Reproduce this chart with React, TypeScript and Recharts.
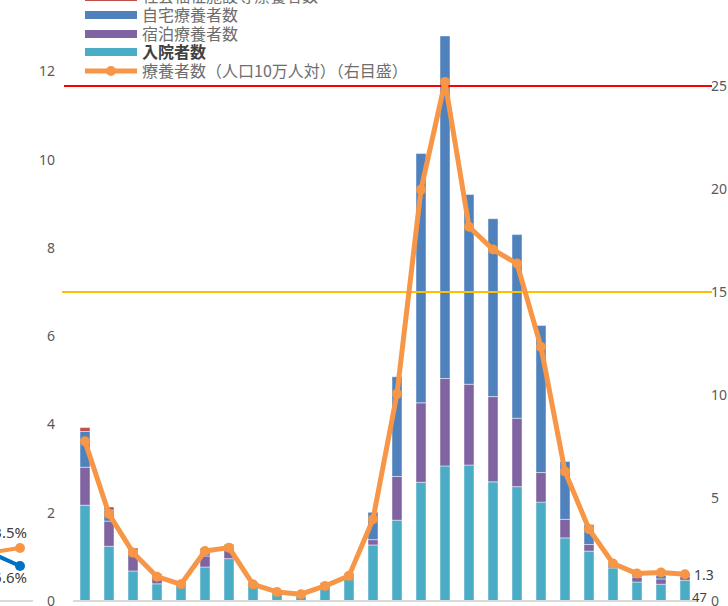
import React from 'react';
import {
  ComposedChart,
  LineChart,
  Bar,
  Line,
  XAxis,
  YAxis,
  ReferenceLine,
  Legend,
  LabelList,
} from 'recharts';

// ---- main chart data (left axis: 百人, right axis: 人口10万人対) ----
const categories = ['1', '2', '3', '4', '5', '6', '7', '8', '9', '10', '11', '12', '13', '14', '15', '16', '17', '18', '19', '20', '21', '22', '23', '24', '25', '26'];
const hospitalized = [2.17, 1.24, 0.68, 0.39, 0.37, 0.77, 0.96, 0.38, 0.19, 0.11, 0.38, 0.58, 1.27, 1.83, 2.69, 3.06, 3.08, 2.70, 2.59, 2.24, 1.43, 1.13, 0.75, 0.43, 0.38, 0.47];
const hotel = [0.86, 0.57, 0.38, 0.14, 0.05, 0.25, 0.19, 0.03, 0.02, 0.02, 0.03, 0.03, 0.12, 0.99, 1.80, 1.98, 1.83, 1.93, 1.55, 0.67, 0.42, 0.15, 0.05, 0.11, 0.12, 0.09];
const home = [0.81, 0.25, 0.08, 0.05, 0.02, 0.08, 0.06, 0.02, 0.01, 0.01, 0.01, 0.02, 0.62, 2.26, 5.65, 7.76, 4.30, 4.03, 4.16, 3.33, 1.31, 0.45, 0.04, 0.06, 0.08, 0.04];
const welfare = [0.09, 0.07, 0.06, 0.03, 0.01, 0.02, 0.02, 0, 0, 0, 0, 0, 0, 0, 0, 0, 0, 0, 0, 0, 0, 0, 0, 0, 0, 0];
const adjusting = [0, 0, 0, 0, 0, 0.08, 0.06, 0, 0, 0, 0, 0, 0, 0, 0, 0, 0, 0, 0, 0, 0, 0, 0, 0, 0, 0];
const perCapita = [7.75, 4.22, 2.35, 1.18, 0.81, 2.43, 2.59, 0.81, 0.44, 0.33, 0.73, 1.22, 3.97, 10.06, 19.97, 25.2, 18.17, 17.06, 16.38, 12.33, 6.29, 3.49, 1.82, 1.33, 1.38, 1.30];

const leftTicks = [0, 2, 4, 6, 8, 10, 12, 14];
const rightTicks = [0, 5, 10, 15, 20, 25, 30];
const redLevel = 25;
const yellowLevel = 15;

const seriesNames = {
  adjusting: '入院・療養等調整中',
  welfare: '社会福祉施設等療養者数',
  home: '自宅療養者数',
  hotel: '宿泊療養者数',
  hospitalized: '入院者数',
  perCapita: '療養者数（人口10万人対）（右目盛）',
};
const legendOrder = [
  seriesNames.adjusting,
  seriesNames.welfare,
  seriesNames.home,
  seriesNames.hotel,
  seriesNames.hospitalized,
  seriesNames.perCapita,
];

// ---- neighbouring (clipped) chart on the left edge ----
const miniCategories = ['a', 'b'];
const miniOrange = [8.8, 10.6];
const miniBlue = [12.4, 7.0];
const miniLabels = { orange: '3.5%', blue: '5.6%' };

const COLORS = {
  hospitalized: '#4BACC6',
  hotel: '#8064A2',
  home: '#4F81BD',
  welfare: '#C0504D',
  adjusting: '#9BBB59',
  line: '#F79646',
  red: '#FF0000',
  yellow: '#FFC000',
  axis: '#D9D9D9',
  tick: '#595959',
};

const data = categories.map((c, i) => ({
  cat: c,
  hospitalized: hospitalized[i],
  hotel: hotel[i],
  home: home[i],
  welfare: welfare[i],
  adjusting: adjusting[i],
  perCapita: perCapita[i],
}));

const miniData = miniCategories.map((c, i) => ({ k: c, o: miniOrange[i], b: miniBlue[i] }));

const tickStyle = { fill: COLORS.tick, fontSize: 14, fontFamily: 'Noto Sans' };

const renderLegend = (props: any) => {
  const payload: any[] = props.payload || [];
  const items = legendOrder
    .map((n) => payload.find((p) => p.value === n))
    .filter(Boolean);
  return (
    <div style={{ fontFamily: '"Noto Sans CJK JP"', fontSize: 16 }}>
      {items.map((it: any) => {
        const isLine = it.value === seriesNames.perCapita;
        const bold = it.value === seriesNames.hospitalized;
        return (
          <div key={it.value} style={{ height: 18.6, display: 'flex', alignItems: 'center', whiteSpace: 'nowrap' }}>
            {isLine ? (
              <svg width={52} height={12} style={{ display: 'block' }}>
                <line x1={0} y1={6} x2={52} y2={6} stroke={it.color} strokeWidth={5} strokeLinecap="round" />
                <circle cx={26} cy={6} r={5} fill={it.color} />
              </svg>
            ) : (
              <div style={{ width: 52, height: 8, background: it.color }} />
            )}
            <span
              style={{
                marginLeft: 5,
                color: bold ? '#404040' : '#6E6E6E',
                fontWeight: bold ? 700 : 400,
                position: 'relative',
                top: -1,
                lineHeight: '18.6px',
              }}
            >
              {it.value}
            </span>
          </div>
        );
      })}
    </div>
  );
};

// horizontal guide lines run a little past both ends of the plot area
const extendedLine = (color: string, extendLeft: number, extendRight: number) => (p: any) => {
  const lo = Math.min(p.x1, p.x2);
  const hi = Math.max(p.x1, p.x2);
  return <line x1={lo - extendLeft} y1={p.y1} x2={hi + extendRight} y2={p.y2} stroke={color} strokeWidth={2} />;
};

const lastIndex = categories.length - 1;

export default function App() {
  return (
    <div style={{ position: 'absolute', left: 0, top: 0, width: 728, height: 606, overflow: 'hidden', background: '#fff' }}>
      {/* neighbouring chart, mostly outside the view */}
      <div style={{ position: 'absolute', left: -60, top: 0 }}>
        <LineChart width={93} height={640} data={miniData} margin={{ top: 401, right: 0, bottom: 0, left: 0 }}>
          <XAxis dataKey="k" tick={false} tickLine={false} height={39} axisLine={{ stroke: COLORS.axis, strokeWidth: 2 }} padding={{ left: 20, right: 13 }} />
          <YAxis hide domain={[0, 40]} />
          <Line dataKey="o" stroke={COLORS.line} strokeWidth={4} dot={{ r: 5, fill: COLORS.line, stroke: 'none' }} isAnimationActive={false}>
            <LabelList
              dataKey="o"
              content={(p: any) =>
                p.index === miniCategories.length - 1 ? (
                  <text x={p.x + 7} y={p.y - 16} textAnchor="end" dominantBaseline="central" fontSize={15} fontFamily="Noto Sans" fill="#404040">
                    {miniLabels.orange}
                  </text>
                ) : null
              }
            />
          </Line>
          <Line dataKey="b" stroke="#0070C0" strokeWidth={4} dot={{ r: 5, fill: '#0070C0', stroke: 'none' }} isAnimationActive={false}>
            <LabelList
              dataKey="b"
              content={(p: any) =>
                p.index === miniCategories.length - 1 ? (
                  <text x={p.x + 7} y={p.y + 11} textAnchor="end" dominantBaseline="central" fontSize={15} fontFamily="Noto Sans" fill="#404040">
                    {miniLabels.blue}
                  </text>
                ) : null
              }
            />
          </Line>
        </LineChart>
      </div>

      {/* main chart */}
      <div style={{ position: 'absolute', left: 0, top: -60 }}>
        <ComposedChart width={728} height={681} data={data} margin={{ top: 43, right: 0, bottom: 0, left: 0 }}>
          <XAxis dataKey="cat" xAxisId="x" tick={false} tickLine={false} height={20} axisLine={{ stroke: COLORS.axis, strokeWidth: 2 }} />
          <YAxis
            yAxisId="left"
            domain={[0, 14]}
            ticks={leftTicks}
            width={73}
            axisLine={false}
            tickLine={false}
            tickMargin={12}
            tick={tickStyle}
            interval={0}
          />
          <YAxis
            yAxisId="right"
            orientation="right"
            domain={[0, 30]}
            ticks={rightTicks}
            width={31}
            axisLine={false}
            tickLine={false}
            tickMargin={8}
            tick={tickStyle}
            interval={0}
          />
          <Legend
            layout="vertical"
            align="center"
            verticalAlign="middle"
            content={renderLegend}
            wrapperStyle={{ left: 85, top: 28.8, width: 400, height: 'auto' }}
          />
          <Bar dataKey="hospitalized" name={seriesNames.hospitalized} stackId="s" xAxisId="x" yAxisId="left" fill={COLORS.hospitalized} barSize={10} stroke="rgba(255,255,255,0.45)" strokeWidth={1} isAnimationActive={false}>
            <LabelList
              dataKey="hospitalized"
              content={(p: any) =>
                p.index === lastIndex ? (
                  <text x={p.x + p.width + 2} y={p.y + p.height + 1} textAnchor="start" fontSize={13} fontFamily="Noto Sans" fill="#404040">
                    {Math.round(Number(p.value) * 100)}
                  </text>
                ) : null
              }
            />
          </Bar>
          <Bar dataKey="hotel" name={seriesNames.hotel} stackId="s" xAxisId="x" yAxisId="left" fill={COLORS.hotel} barSize={10} stroke="rgba(255,255,255,0.45)" strokeWidth={1} isAnimationActive={false} />
          <Bar dataKey="home" name={seriesNames.home} stackId="s" xAxisId="x" yAxisId="left" fill={COLORS.home} barSize={10} stroke="rgba(255,255,255,0.45)" strokeWidth={1} isAnimationActive={false} />
          <Bar dataKey="welfare" name={seriesNames.welfare} stackId="s" xAxisId="x" yAxisId="left" fill={COLORS.welfare} barSize={10} stroke="rgba(255,255,255,0.45)" strokeWidth={1} isAnimationActive={false} />
          <Bar dataKey="adjusting" name={seriesNames.adjusting} stackId="s" xAxisId="x" yAxisId="left" fill={COLORS.adjusting} barSize={10} stroke="rgba(255,255,255,0.45)" strokeWidth={1} isAnimationActive={false} />
          <ReferenceLine y={yellowLevel} xAxisId="x" yAxisId="right" shape={extendedLine(COLORS.yellow, 11, 15)} />
          <ReferenceLine y={redLevel} xAxisId="x" yAxisId="right" shape={extendedLine(COLORS.red, 9, 15)} />
          <Line
            dataKey="perCapita"
            name={seriesNames.perCapita}
            xAxisId="x"
            yAxisId="right"
            stroke={COLORS.line}
            strokeWidth={5}
            strokeLinejoin="round"
            dot={{ r: 5, fill: COLORS.line, stroke: 'none' }}
            activeDot={false}
            isAnimationActive={false}
          >
            <LabelList
              dataKey="perCapita"
              content={(p: any) =>
                p.index === lastIndex ? (
                  <text x={p.x + 9} y={p.y} textAnchor="start" dominantBaseline="central" fontSize={14} fontFamily="Noto Sans" fill="#404040">
                    {Number(p.value).toFixed(1)}
                  </text>
                ) : null
              }
            />
          </Line>
        </ComposedChart>
      </div>
    </div>
  );
}
